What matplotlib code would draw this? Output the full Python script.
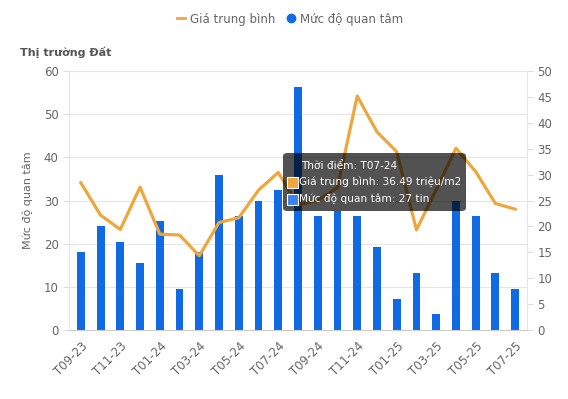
import matplotlib
matplotlib.use('Agg')
import matplotlib.pyplot as plt
from matplotlib.patches import FancyBboxPatch, Rectangle
from matplotlib.lines import Line2D

months = ['T09-23', 'T10-23', 'T11-23', 'T12-23', 'T01-24', 'T02-24', 'T03-24', 'T04-24',
          'T05-24', 'T06-24', 'T07-24', 'T08-24', 'T09-24', 'T10-24', 'T11-24', 'T12-24',
          'T01-25', 'T02-25', 'T03-25', 'T04-25', 'T05-25', 'T06-25', 'T07-25']
# Mức độ quan tâm (số tin) - trục phải
interest = [15, 20, 17, 13, 21, 8, 15, 30, 22, 25, 27, 47, 22, 23, 22, 16, 6, 11, 3, 25, 22, 11, 8]
# Giá trung bình (triệu/m2) - trục trái
price = [34.1, 26.6, 23.3, 33.1, 22.2, 22.0, 17.2, 24.9, 26.0, 32.4, 36.49, 29.0, 30.0, 33.0,
         54.2, 45.9, 41.3, 23.2, 32.5, 42.1, 36.7, 29.3, 28.0]

BLUE = '#0f6ae3'
ORANGE = '#eea63d'
GRAY = '#666666'

W, H = 568, 399
fig = plt.figure(figsize=(W / 100, H / 100), dpi=100)
ax = fig.add_axes([69 / W, 1 - 330 / H, (527 - 69) / W, (330 - 71) / H])
axl = ax.twinx()

x = list(range(len(months)))

# bars on the right scale
ax.bar(x, interest, width=0.4, color=BLUE, zorder=2)
ax.set_ylim(0, 50)
ax.set_xlim(-0.6, len(months) - 0.4)
ax.yaxis.tick_right()
ax.set_yticks(range(0, 51, 5))
for v in range(0, 61, 10):
    ax.axhline(v * 50 / 60, color='#e6e6e6', lw=0.8, zorder=0)

# price line on the left scale
axl.plot(x, price, color=ORANGE, lw=2.3, zorder=3)
axl.set_ylim(0, 60)
axl.yaxis.tick_left()
axl.yaxis.set_label_position('left')
axl.set_yticks(range(0, 61, 10))
axl.set_ylabel('Mức độ quan tâm', color=GRAY, fontsize=8, labelpad=8)

ax.set_xticks(x[::2])
ax.set_xticklabels(months[::2], rotation=45, ha='right', rotation_mode='anchor')

for a in (ax, axl):
    a.tick_params(colors=GRAY, labelsize=8.5, length=4)
    a.tick_params(axis='y', color='#dddddd')
    for s in a.spines.values():
        s.set_visible(False)
ax.tick_params(axis='x', length=0, pad=7)
ax.spines['bottom'].set_visible(True)
ax.spines['bottom'].set_color('#cccccc')
ax.spines['left'].set_visible(True)
ax.spines['left'].set_color('#e6e6e6')
ax.spines['right'].set_visible(True)
ax.spines['right'].set_color('#e6e6e6')

fig.text(20 / W, 1 - 52 / H, 'Thị trường Đất', fontsize=8, fontweight='bold',
         color='#555555', va='center')

# legend
handles = [Line2D([], [], color=ORANGE, lw=2),
           Line2D([], [], marker='o', color=BLUE, ls='', markersize=6)]
fig.legend(handles, ['Giá trung bình', 'Mức độ quan tâm'], loc='center',
           bbox_to_anchor=(290 / W, 1 - 19 / H), ncol=2, frameon=False,
           fontsize=8.5, handlelength=0.7, handletextpad=0.4, columnspacing=1.0,
           labelcolor=GRAY)

# tooltip for T07-24
i = months.index('T07-24')
tip = FancyBboxPatch((283 / W, 1 - 211 / H), (466 - 283) / W, (211 - 153) / H,
                     boxstyle='round,pad=0,rounding_size=0.008', transform=fig.transFigure,
                     facecolor='black', alpha=0.68, edgecolor='none', zorder=10)
fig.patches.append(tip)
fig.text(301 / W, 1 - 166 / H, f'Thời điểm: {months[i]}', color='white', fontsize=7.6,
         va='center', zorder=11)
fig.text(299 / W, 1 - 182 / H, f'Giá trung bình: {price[i]:.2f} triệu/m2', color='white',
         fontsize=7.6, va='center', zorder=11)
fig.text(299 / W, 1 - 199 / H, f'Mức độ quan tâm: {interest[i]} tin', color='white',
         fontsize=7.6, va='center', zorder=11)
for yy, c in ((182, ORANGE), (199, '#3c82ea')):
    fig.patches.append(Rectangle((287 / W, 1 - (yy + 6) / H), 11 / W, 11 / H,
                                 transform=fig.transFigure, facecolor=c,
                                 edgecolor='white', lw=0.8, zorder=11))

fig.savefig('out.png', dpi=100)
